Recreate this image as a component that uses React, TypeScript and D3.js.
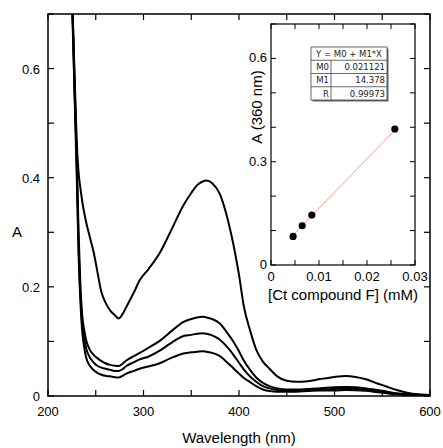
import React from "react";
import * as d3 from "d3";

const wavelengths = [224, 226, 228, 230, 232, 234, 236, 238, 240, 244, 248, 252, 256, 260, 265, 270, 274, 278, 282, 290, 296, 305, 317, 328, 342, 350, 356, 362, 366, 372, 380, 388, 394, 400, 405, 412, 418, 425, 432, 440, 450, 460, 472, 485, 500, 512, 522, 532, 545, 555, 565, 576, 588, 600];

const spectrum1 = [0.78, 0.69, 0.58, 0.47, 0.41, 0.38, 0.355, 0.335, 0.318, 0.29, 0.262, 0.225, 0.19, 0.172, 0.157, 0.148, 0.142, 0.15, 0.163, 0.19, 0.212, 0.232, 0.262, 0.3, 0.35, 0.372, 0.386, 0.393, 0.395, 0.39, 0.37, 0.325, 0.279, 0.222, 0.165, 0.118, 0.085, 0.063, 0.05, 0.036, 0.028, 0.026, 0.027, 0.031, 0.035, 0.0366, 0.035, 0.031, 0.023, 0.017, 0.011, 0.006, 0.003, 0.002];
const spectrum2 = [0.8, 0.69, 0.56, 0.45, 0.3, 0.2, 0.145, 0.12, 0.102, 0.084, 0.075, 0.069, 0.064, 0.06, 0.057, 0.0555, 0.055, 0.059, 0.065, 0.073, 0.079, 0.088, 0.101, 0.117, 0.136, 0.141, 0.144, 0.145, 0.144, 0.141, 0.133, 0.115, 0.1, 0.082, 0.065, 0.047, 0.034, 0.024, 0.018, 0.014, 0.012, 0.012, 0.013, 0.014, 0.016, 0.0165, 0.016, 0.014, 0.011, 0.008, 0.005, 0.003, 0.002, 0.001];
const spectrum3 = [0.8, 0.68, 0.55, 0.43, 0.28, 0.185, 0.13, 0.105, 0.087, 0.07, 0.061, 0.055, 0.052, 0.05, 0.048, 0.046, 0.046, 0.049, 0.055, 0.062, 0.067, 0.072, 0.083, 0.096, 0.11, 0.112, 0.114, 0.115, 0.114, 0.111, 0.103, 0.089, 0.076, 0.061, 0.049, 0.035, 0.026, 0.018, 0.014, 0.011, 0.01, 0.01, 0.011, 0.012, 0.013, 0.0135, 0.013, 0.012, 0.009, 0.006, 0.004, 0.002, 0.001, 0.001];
const spectrum4 = [0.8, 0.67, 0.54, 0.41, 0.26, 0.17, 0.115, 0.088, 0.07, 0.055, 0.047, 0.042, 0.039, 0.037, 0.036, 0.0345, 0.034, 0.037, 0.041, 0.046, 0.05, 0.054, 0.06, 0.069, 0.078, 0.08, 0.081, 0.082, 0.081, 0.079, 0.073, 0.061, 0.051, 0.041, 0.033, 0.025, 0.018, 0.012, 0.009, 0.008, 0.008, 0.008, 0.009, 0.01, 0.01, 0.011, 0.0105, 0.0095, 0.007, 0.005, 0.003, 0.002, 0.001, 0.001];
const spectra = [spectrum1, spectrum2, spectrum3, spectrum4];

const xTickLabels = [200, 300, 400, 500, 600];
const yTickLabels = [0, 0.2, 0.4, 0.6];

const concentrations = [0.0046, 0.0065, 0.0085, 0.0258];
const absorbance360 = [0.083, 0.114, 0.145, 0.395];
const fitM0 = 0.021121;
const fitM1 = 14.378;
const fitR = 0.99973;
const insetXTickLabels = [0, 0.01, 0.02, 0.03];
const insetYTickLabels = [0, 0.3, 0.6];
const tableRows = [
  ["M0", "0.021121"],
  ["M1", "14.378"],
  ["R", "0.99973"],
];

const FONT = "'Liberation Sans', Arial, Helvetica, sans-serif";

export default function App() {
  const W = 443, H = 448;
  const L = 48, R = 430, T = 14, B = 396;
  const x = d3.scaleLinear().domain([200, 600]).range([L, R]);
  const y = d3.scaleLinear().domain([0, 0.7]).range([B, T]);
  const line = d3
    .line<number>()
    .x((_, i) => x(wavelengths[i]))
    .y((d) => y(d))
    .curve(d3.curveMonotoneX);

  const xMinor = d3.range(200, 601, 50);
  const yMinor = d3.range(0, 0.701, 0.1);

  // inset
  const iL = 271, iR = 415, iT = 24, iB = 265;
  const ix = d3.scaleLinear().domain([0, 0.03]).range([iL, iR]);
  const iy = d3.scaleLinear().domain([0, 0.7]).range([iB, iT]);
  const ixMinor = d3.range(0, 0.0301, 0.005);
  const iyMinor = d3.range(0, 0.701, 0.1);
  const x0 = concentrations[0];
  const x1 = concentrations[concentrations.length - 1];

  // table
  const tX = 311, tY = 47, tW = 76, rowH = 13.25, col = 331;

  return (
    <svg width={W} height={H} style={{ display: "block", position: "absolute", left: 0, top: 0 }} fontFamily={FONT}>
      <rect width={W} height={H} fill="#fff" />
      <defs>
        <clipPath id="plotclip">
          <rect x={L} y={T} width={R - L} height={B - T} />
        </clipPath>
      </defs>
      {/* spectra */}
      <g clipPath="url(#plotclip)">
        {spectra.map((s, k) => (
          <path key={k} d={line(s) || ""} fill="none" stroke="#000" strokeWidth={2} strokeLinejoin="round" />
        ))}
      </g>
      {/* main frame */}
      <rect x={L} y={T} width={R - L} height={B - T} fill="none" stroke="#000" strokeWidth={1.5} />
      {xMinor.map((v) => (
        <g key={"xt" + v}>
          <line x1={x(v)} x2={x(v)} y1={B} y2={B - 6} stroke="#000" strokeWidth={1.2} />
          <line x1={x(v)} x2={x(v)} y1={T} y2={T + 6} stroke="#000" strokeWidth={1.2} />
        </g>
      ))}
      {yMinor.map((v, i) => (
        <g key={"yt" + i}>
          <line x1={L} x2={L + 6} y1={y(v)} y2={y(v)} stroke="#000" strokeWidth={1.2} />
          <line x1={R} x2={R - 6} y1={y(v)} y2={y(v)} stroke="#000" strokeWidth={1.2} />
        </g>
      ))}
      {xTickLabels.map((v) => (
        <text key={"xl" + v} x={x(v)} y={B + 20} fontSize={13} textAnchor="middle" fill="#000">
          {v}
        </text>
      ))}
      {yTickLabels.map((v) => (
        <text key={"yl" + v} x={L - 8} y={y(v) + 5} fontSize={13} textAnchor="end" fill="#000">
          {v === 0 ? "0" : v.toFixed(1)}
        </text>
      ))}
      <text x={(L + R) / 2} y={443} fontSize={15} textAnchor="middle" fill="#000">
        Wavelength (nm)
      </text>
      <text x={17} y={237} fontSize={15} textAnchor="middle" fill="#000">
        A
      </text>

      {/* inset */}
      <rect x={iL} y={iT} width={iR - iL} height={iB - iT} fill="#fff" stroke="#000" strokeWidth={1.2} />
      {ixMinor.map((v, i) => (
        <g key={"ixt" + i}>
          <line x1={ix(v)} x2={ix(v)} y1={iB} y2={iB - 5} stroke="#000" strokeWidth={1} />
          <line x1={ix(v)} x2={ix(v)} y1={iT} y2={iT + 5} stroke="#000" strokeWidth={1} />
        </g>
      ))}
      {iyMinor.map((v, i) => (
        <g key={"iyt" + i}>
          <line x1={iL} x2={iL + 5} y1={iy(v)} y2={iy(v)} stroke="#000" strokeWidth={1} />
          <line x1={iR} x2={iR - 5} y1={iy(v)} y2={iy(v)} stroke="#000" strokeWidth={1} />
        </g>
      ))}
      {insetXTickLabels.map((v) => (
        <text key={"ixl" + v} x={ix(v)} y={iB + 16} fontSize={13} textAnchor="middle" fill="#000">
          {v === 0 ? "0" : String(v)}
        </text>
      ))}
      {insetYTickLabels.map((v) => (
        <text key={"iyl" + v} x={iL - 4} y={iy(v) + 4} fontSize={13} textAnchor="end" fill="#000">
          {v === 0 ? "0" : v.toFixed(1)}
        </text>
      ))}
      <text x={343} y={300} fontSize={15} textAnchor="middle" fill="#000">
        [Ct compound F] (mM)
      </text>
      <text transform={`translate(262,107) rotate(-90)`} fontSize={15} textAnchor="middle" fill="#000">
        A (360 nm)
      </text>
      <line x1={ix(x0)} y1={iy(fitM0 + fitM1 * x0)} x2={ix(x1)} y2={iy(fitM0 + fitM1 * x1)} stroke="#f4a0a0" strokeWidth={1} />
      {concentrations.map((c, i) => (
        <circle key={"pt" + i} cx={ix(c)} cy={iy(absorbance360[i])} r={3.6} fill="#000" />
      ))}

      {/* fit table */}
      <rect x={tX + 1.5} y={tY + 1.5} width={tW} height={rowH * 4} fill="#666" />
      <rect x={tX} y={tY} width={tW} height={rowH * 4} fill="#fff" stroke="#444" strokeWidth={0.8} />
      <text x={tX + tW / 2} y={tY + rowH - 3.5} fontSize={8.5} textAnchor="middle" fill="#222" fontFamily="'DejaVu Sans', sans-serif">
        {`Y = M0 + M1*X`}
      </text>
      {tableRows.map((r, i) => (
        <g key={"row" + i}>
          <line x1={tX} x2={tX + tW} y1={tY + rowH * (i + 1)} y2={tY + rowH * (i + 1)} stroke="#444" strokeWidth={0.8} />
          <text x={col - 2} y={tY + rowH * (i + 2) - 3.5} fontSize={8.5} textAnchor="end" fill="#222" fontFamily="'DejaVu Sans', sans-serif">
            {r[0]}
          </text>
          <text x={tX + tW - 2} y={tY + rowH * (i + 2) - 3.5} fontSize={8.5} textAnchor="end" fill="#222" fontFamily="'DejaVu Sans', sans-serif">
            {i === 2 ? String(fitR) : r[1]}
          </text>
        </g>
      ))}
      <line x1={col} x2={col} y1={tY + rowH} y2={tY + rowH * 4} stroke="#444" strokeWidth={0.8} />
    </svg>
  );
}
